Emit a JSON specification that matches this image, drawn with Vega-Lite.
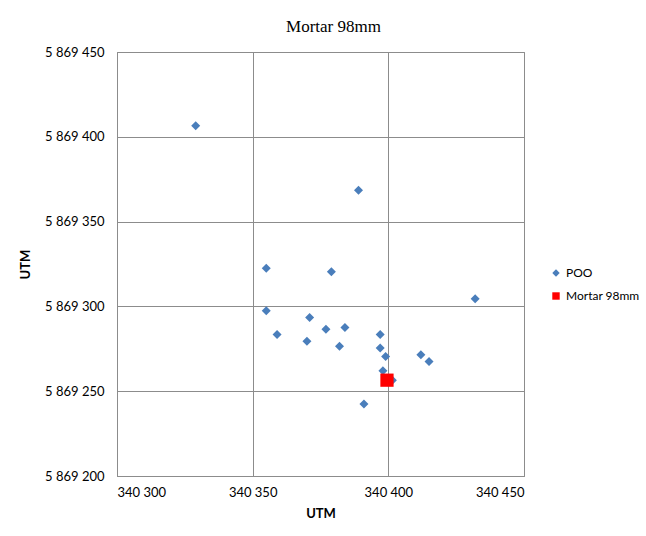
{
  "$schema": "https://vega.github.io/schema/vega-lite/v6.json",
  "autosize": "none",
  "width": 407,
  "height": 424,
  "padding": {"left": 117, "top": 52, "right": 122, "bottom": 60},
  "background": "white",
  "title": {
    "text": "Mortar 98mm",
    "font": "Liberation Serif",
    "fontSize": 17,
    "fontWeight": "normal",
    "color": "black",
    "offset": 10,
    "dx": 13
  },
  "data": {
    "values": [
      {"x": 340329, "y": 5869406.5, "series": "POO"},
      {"x": 340389, "y": 5869368.5, "series": "POO"},
      {"x": 340355, "y": 5869322.5, "series": "POO"},
      {"x": 340379, "y": 5869320.5, "series": "POO"},
      {"x": 340432, "y": 5869304.5, "series": "POO"},
      {"x": 340355, "y": 5869297.5, "series": "POO"},
      {"x": 340371, "y": 5869293.5, "series": "POO"},
      {"x": 340384, "y": 5869287.5, "series": "POO"},
      {"x": 340377, "y": 5869286.5, "series": "POO"},
      {"x": 340359, "y": 5869283.5, "series": "POO"},
      {"x": 340397, "y": 5869283.5, "series": "POO"},
      {"x": 340370, "y": 5869279.5, "series": "POO"},
      {"x": 340382, "y": 5869276.5, "series": "POO"},
      {"x": 340397, "y": 5869275.5, "series": "POO"},
      {"x": 340399, "y": 5869270.5, "series": "POO"},
      {"x": 340412, "y": 5869271.5, "series": "POO"},
      {"x": 340415, "y": 5869267.5, "series": "POO"},
      {"x": 340398, "y": 5869262, "series": "POO"},
      {"x": 340401.5, "y": 5869256.5, "series": "POO"},
      {"x": 340391, "y": 5869242.5, "series": "POO"},
      {"x": 340399.5, "y": 5869256.5, "series": "Mortar 98mm"}
    ]
  },
  "mark": {"type": "point", "filled": true, "opacity": 1},
  "encoding": {
    "x": {
      "field": "x",
      "type": "quantitative",
      "title": "UTM",
      "scale": {"domain": [340300, 340450], "nice": false, "zero": false},
      "axis": {
        "values": [340300, 340350, 340400, 340450],
        "labelExpr": "replace(format(datum.value, ','), regexp(',', 'g'), ' ')",
        "labelPadding": 10,
        "titlePadding": 8
      }
    },
    "y": {
      "field": "y",
      "type": "quantitative",
      "title": "UTM",
      "scale": {"domain": [5869200, 5869450], "nice": false, "zero": false},
      "axis": {
        "values": [5869200, 5869250, 5869300, 5869350, 5869400, 5869450],
        "labelExpr": "replace(format(datum.value, ','), regexp(',', 'g'), ' ')",
        "labelPadding": 13,
        "titlePadding": 12
      }
    },
    "color": {
      "field": "series",
      "type": "nominal",
      "scale": {"domain": ["POO", "Mortar 98mm"], "range": ["#4A7EBB", "#FF0000"]},
      "legend": {
        "title": null,
        "orient": "none",
        "legendX": 433,
        "legendY": 215,
        "symbolSize": 55,
        "rowPadding": 11,
        "labelOffset": 4,
        "labelFont": "Lato",
        "labelFontSize": 12,
        "labelColor": "black"
      }
    },
    "shape": {
      "field": "series",
      "type": "nominal",
      "scale": {"domain": ["POO", "Mortar 98mm"], "range": ["diamond", "square"]}
    },
    "size": {
      "condition": {"test": "datum.series === 'Mortar 98mm'", "value": 175},
      "value": 81
    },
    "order": {"field": "series", "sort": "descending"}
  },
  "config": {
    "view": {"stroke": "#8C8C8C", "strokeWidth": 1},
    "axis": {
      "grid": true,
      "gridColor": "#8C8C8C",
      "gridOpacity": 1,
      "gridWidth": 1,
      "domainColor": "#8C8C8C",
      "ticks": false,
      "labelFont": "Lato",
      "labelFontSize": 13,
      "labelColor": "black",
      "titleFont": "Lato",
      "titleFontSize": 13,
      "titleFontWeight": "bold",
      "titleColor": "black"
    }
  }
}
